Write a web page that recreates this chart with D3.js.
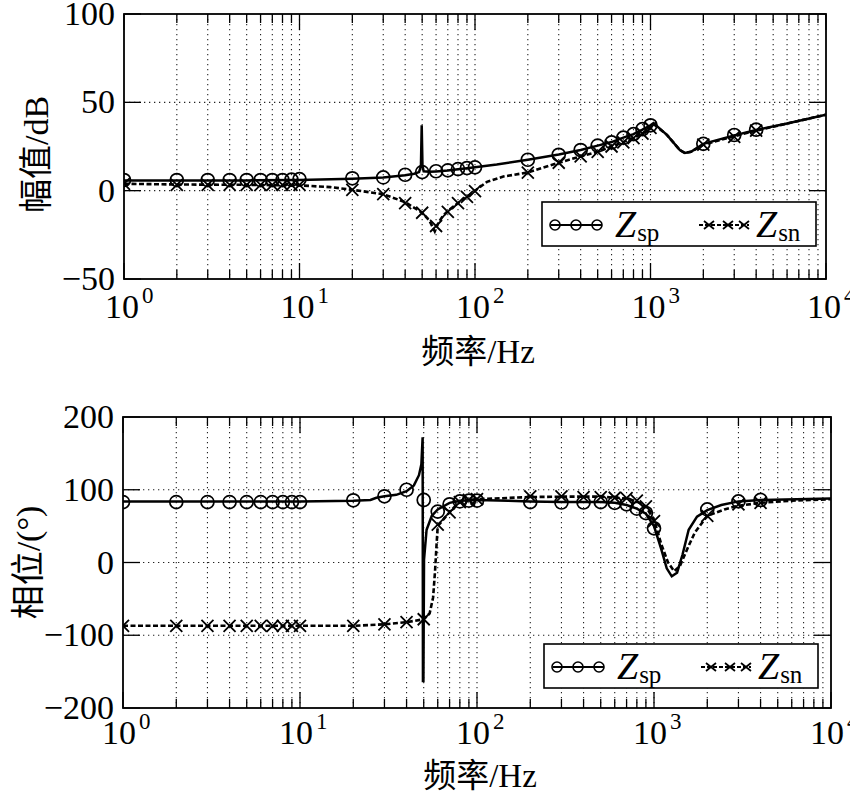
<!DOCTYPE html>
<html><head><meta charset="utf-8">
<script src="https://cdn.jsdelivr.net/npm/d3@7/dist/d3.min.js"></script>
<style>body{margin:0;background:#fff}</style>
</head><body>
<svg id="c" width="850" height="800"></svg>
<script>
// ---------- data ----------
const xTickExps = ["0","1","2","3","4"];
const magTicks = [-50, 0, 50, 100];
const phaseTicks = [-200, -100, 0, 100, 200];
const seriesNames = ["sp", "sn"];

const markerFreqs = [1,2,3,4,5,6,7,8,9,10,20,30,40,50,60,70,80,90,100,200,300,400,500,600,700,800,900,1000,2000,3000,4000];

// magnitude (dB)
const magSpLine = [[1,5.8],[2,5.8],[5,5.8],[10,6.1],[20,6.8],[30,7.5],[40,8.7],[45,9.6],[48,10.5],[49.2,14],[49.7,37],[50.2,14],[51,11],[55,10.7],[60,10.9],[70,11.4],[80,12.1],[90,12.7],[100,13.2],[133,14.8],[200,17.5],[300,20.5],[400,23],[500,25.5],[600,27.5],[700,30],[800,32],[900,34.5],[1000,37],[1040,38.3],[1240,31.6],[1470,23],[1570,21.3],[1700,22],[2000,26.5],[3000,31.3],[4000,34.3],[6000,38],[10000,43]];
const magSpMarks = [6,6,6,6,6,6,6,6,6.2,6.5,7,7.5,9,10.5,11,11.5,12.2,12.8,13.2,17.5,20.3,23,25.5,27.3,30,32,34.8,37,26.5,31.5,34.5];
const magSnLine = [[1,3.9],[2,3.5],[5,3.3],[10,3.0],[15,2.0],[20,0.5],[30,-2],[40,-6.5],[50,-12.5],[55,-17],[59,-23],[62,-18],[66,-14],[70,-11.5],[80,-7],[90,-3.5],[100,0],[117,5],[145,8],[200,10.3],[300,15.8],[400,19.4],[500,22],[600,25],[700,27.5],[800,30],[900,32.5],[1000,35.5],[1040,37.8],[1240,31.6],[1470,23],[1570,21.3],[1700,22],[2000,26],[3000,30.8],[4000,34],[6000,38],[10000,43]];
const magSnMarks = [3.9,3.3,3.3,3.3,3.3,3.3,3.3,3.3,3.3,3.3,0.5,-2,-7,-12.5,-20,-12,-7,-3.5,-0.3,10.2,15.8,19.4,22,25,27.3,29.8,32.3,35.5,26,30.5,34];

// phase (deg)
const phSpLine = [[1,84],[10,84],[20,85],[25,86],[27,89],[30,91],[35,93],[40,98],[44,106],[47,120],[48.5,135],[49.3,172],[49.5,-163],[49.8,-163],[50.2,4],[51.9,45],[55.5,64],[60,73],[70,82],[80,85],[100,86],[150,85],[200,84],[300,83],[400,83],[500,83],[600,82],[700,79],[800,74],[900,67],[1000,50],[1100,18],[1180,-8],[1260,-19],[1350,-14],[1450,11],[1570,45],[1750,63],[2000,72],[2400,79],[3000,84],[4000,86],[10000,88]];
const phSpMarks = [83,83,83,83,83,83,83,83,83,83,85.5,91,100,86,70,80,84,85,85,83,82.5,82.5,83,82,80,74,68,47,73,84,86];
const phSnLine = [[1,-87],[20,-87],[30,-85],[40,-82],[50,-78],[54,-70],[56.5,-48],[58,-10],[59,22],[60,50],[65,60],[70,69],[75,77],[80,83],[90,86],[100,87],[200,90],[300,90.5],[500,90.5],[600,89],[700,88],[800,84],[900,77],[1000,59],[1100,25],[1200,0],[1300,-12],[1400,-5],[1550,20],[1700,41],[2000,64],[2500,73],[3000,78],[4000,82],[6000,85],[10000,87]];
const phSnMarks = [-87,-87,-87,-87,-87,-87,-87,-87,-87,-87,-87,-85,-82,-78,52,69,83,86,87,91,91,90,90,89,88.5,85,77,57,64,80,82];

// ---------- drawing ----------
const svg = d3.select("#c");
const FONT = "Liberation Serif, Times New Roman, DejaVu Serif, Noto Sans CJK SC, serif";

function panel(o) {
  const x = d3.scaleLog().domain([1, 10000]).range([o.x0, o.x1]);
  const y = d3.scaleLinear().domain(o.yDomain).range([o.y1, o.y0]);
  const g = svg.append("g");
  const clipId = "clip" + o.id;
  svg.append("clipPath").attr("id", clipId).append("rect")
    .attr("x", o.x0).attr("y", o.y0).attr("width", o.x1 - o.x0).attr("height", o.y1 - o.y0);

  const xt = x.ticks();
  const majors = xt.filter(v => Math.abs(Math.log10(v) - Math.round(Math.log10(v))) < 1e-9);
  // grid
  const grid = g.append("g").attr("stroke", "#222").attr("stroke-width", 1.1).attr("stroke-dasharray", "1.3,3.7");
  xt.forEach(v => { if (v > 1 && v < 10000) grid.append("line").attr("x1", x(v)).attr("x2", x(v)).attr("y1", o.y0).attr("y2", o.y1); });
  o.yTicks.forEach(v => { if (v > o.yDomain[0] && v < o.yDomain[1]) grid.append("line").attr("x1", o.x0).attr("x2", o.x1).attr("y1", y(v)).attr("y2", y(v)); });

  // ticks (inner, all sides)
  const tk = g.append("g").attr("stroke", "#000").attr("stroke-width", 1.3);
  xt.forEach(v => {
    const L = majors.includes(v) ? 16 : 9;
    tk.append("line").attr("x1", x(v)).attr("x2", x(v)).attr("y1", o.y1).attr("y2", o.y1 - L);
    tk.append("line").attr("x1", x(v)).attr("x2", x(v)).attr("y1", o.y0).attr("y2", o.y0 + L);
  });
  o.yTicks.forEach(v => {
    tk.append("line").attr("x1", o.x0).attr("x2", o.x0 + 17).attr("y1", y(v)).attr("y2", y(v));
    tk.append("line").attr("x1", o.x1).attr("x2", o.x1 - 17).attr("y1", y(v)).attr("y2", y(v));
  });

  // y tick labels
  o.yTicks.forEach(v => {
    g.append("text").attr("x", o.x0 - 9).attr("y", y(v) + 11).attr("text-anchor", "end")
      .attr("font-family", FONT).attr("font-size", 34).text(v < 0 ? "\u2212" + Math.abs(v) : String(v));
  });
  // x tick labels 10^n
  majors.forEach((v, i) => {
    const t = g.append("text").attr("x", x(v) - o.xLabShift).attr("y", o.xLabBase)
      .attr("font-family", FONT).attr("font-size", 34);
    t.append("tspan").text("10");
    t.append("tspan").attr("font-size", 23).attr("dx", 3).attr("dy", -15).text(xTickExps[i]);
  });
  // axis labels
  g.append("text").attr("x", (o.x0 + o.x1) / 2 + 3).attr("y", o.xTitleBase).attr("text-anchor", "middle")
    .attr("font-family", FONT).attr("font-size", 33).text("频率/Hz");
  g.append("text").attr("transform", `translate(${o.yTitleX},${(o.y0 + o.y1) / 2 + o.yTitleDy}) rotate(-90)`)
    .attr("text-anchor", "middle").attr("dominant-baseline", "central")
    .attr("font-family", FONT).attr("font-size", 34).text(o.yTitle);

  // curves
  const line = d3.line().x(d => x(d[0])).y(d => y(d[1]));
  const cg = g.append("g").attr("clip-path", `url(#${clipId})`);
  cg.append("path").datum(o.snLine).attr("d", line).attr("fill", "none").attr("stroke", "#000")
    .attr("stroke-width", 2.6).attr("stroke-dasharray", "5,2.5");
  cg.append("path").datum(o.spLine).attr("d", line).attr("fill", "none").attr("stroke", "#000")
    .attr("stroke-width", 2.5);
  markerFreqs.forEach((f, i) => {
    cg.append("circle").attr("cx", x(f)).attr("cy", y(o.spMarks[i])).attr("r", 6.5)
      .attr("fill", "none").attr("stroke", "#000").attr("stroke-width", 1.7);
    const cx = x(f), cy = y(o.snMarks[i]), s = 6;
    cg.append("path").attr("d", `M${cx - s},${cy - s}L${cx + s},${cy + s}M${cx - s},${cy + s}L${cx + s},${cy - s}`)
      .attr("stroke", "#000").attr("stroke-width", 1.8);
  });

  // frame
  g.append("rect").attr("x", o.x0).attr("y", o.y0).attr("width", o.x1 - o.x0).attr("height", o.y1 - o.y0)
    .attr("fill", "none").attr("stroke", "#000").attr("stroke-width", 1.8);

  // legend
  const lg = g.append("g").attr("transform", `translate(${o.lgX},${o.lgY})`);
  lg.append("rect").attr("x", 0).attr("y", 0).attr("width", 274).attr("height", 44)
    .attr("fill", "#fff").attr("stroke", "#000").attr("stroke-width", 1.6);
  const ly = 23;
  lg.append("line").attr("x1", 9).attr("x2", 60).attr("y1", ly).attr("y2", ly).attr("stroke", "#000").attr("stroke-width", 1.8);
  [13, 34, 55].forEach(cx => lg.append("circle").attr("cx", cx).attr("cy", ly).attr("r", 5)
    .attr("fill", "none").attr("stroke", "#000").attr("stroke-width", 1.6));
  lg.append("line").attr("x1", 157).attr("x2", 207).attr("y1", ly).attr("y2", ly).attr("stroke", "#000")
    .attr("stroke-width", 2).attr("stroke-dasharray", "4,2");
  [167, 186, 202].forEach(cx => lg.append("path")
    .attr("d", `M${cx - 5},${ly - 4}L${cx + 5},${ly + 4}M${cx - 5},${ly + 4}L${cx + 5},${ly - 4}`)
    .attr("stroke", "#000").attr("stroke-width", 1.8));
  [[73, seriesNames[0]], [214, seriesNames[1]]].forEach(([lx, nm]) => {
    const t = lg.append("text").attr("x", lx).attr("y", 35).attr("font-family", FONT).attr("font-size", 38);
    t.append("tspan").attr("font-style", "italic").text("Z");
    t.append("tspan").attr("font-size", 25).attr("dy", 4).attr("dx", 1).text(nm);
  });
}

panel({id: 1, x0: 124, x1: 826, y0: 14, y1: 279, yDomain: [-50, 100], yTicks: magTicks,
  xLabBase: 318, xLabShift: 19, xTitleBase: 363, yTitle: "幅值/dB", yTitleX: 36, yTitleDy: 8,
  spLine: magSpLine, snLine: magSnLine, spMarks: magSpMarks, snMarks: magSnMarks, lgX: 542, lgY: 202});
panel({id: 2, x0: 123, x1: 831, y0: 417, y1: 708, yDomain: [-200, 200], yTicks: phaseTicks,
  xLabBase: 744, xLabShift: 21, xTitleBase: 787, yTitle: "相位/(°)", yTitleX: 28, yTitleDy: 0,
  spLine: phSpLine, snLine: phSnLine, spMarks: phSpMarks, snMarks: phSnMarks, lgX: 544, lgY: 644});
</script>
</body></html>
